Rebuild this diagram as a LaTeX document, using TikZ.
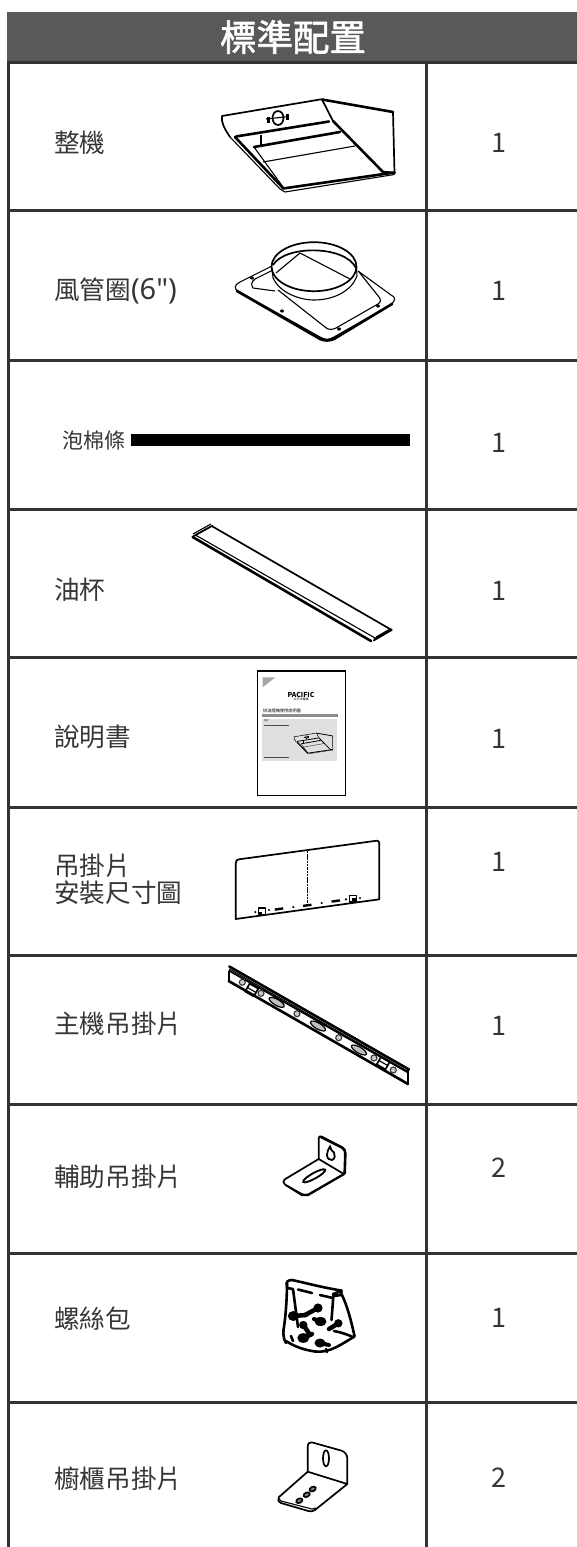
\documentclass[tikz,border=0pt]{standalone}
\usepackage{fontspec}
\setmainfont{Noto Sans CJK TC}
\newfontfamily\headfont[FakeBold=1.6]{Noto Sans CJK TC}
\newfontfamily\latinfont{Noto Sans}
\definecolor{rule}{HTML}{333333}
\definecolor{head}{HTML}{58595B}
\definecolor{ink}{HTML}{231F20}
\tikzset{
  tline/.style={draw=rule,line width=3pt},
  label/.style={anchor=west,inner sep=0pt,text=ink!90,font=\fontsize{25.6}{30}\selectfont,align=left},
  smalllabel/.style={anchor=west,inner sep=0pt,text=ink!90,font=\fontsize{21}{26}\selectfont},
  qty/.style={anchor=center,inner sep=0pt,text=ink!90,font=\fontsize{27}{30}\selectfont},
  hthin/.style={draw=black,line width=1.1pt,line join=round},
  hmid/.style={draw=black,line width=1.7pt,line join=round},
  hbig/.style={draw=black,line width=2.6pt,line join=round,line cap=round},
}
\newcommand{\hoodlines}{%
  \draw[hmid] (230,137) .. controls (224,128) and (221,122) .. (222,116) -- (320,99.5) -- (322,99.5);
  \draw[hbig] (322,99.5) -- (393,112);
  \draw[hmid] (393,112) -- (394.5,173);
  \draw[hmid] (322,99.5) -- (333,121);
  \draw[hbig] (333,121) -- (383,172) -- (394.5,173);
  \draw[hbig] (329,121.5) -- (236,136.5);
  \draw[hthin] (230,137) -- (280,189);
  \draw[hbig] (235,137) -- (283,188);
  \draw[hbig] (254,147) -- (340,132);
  \draw[hthin] (263,162) -- (355,146);
  \draw[hthin] (254,147) -- (283,187);
  \draw[hthin] (261,135) -- (261,146);
  \draw[hbig] (283,188.5) -- (394.5,172.5);
  \draw[hthin] (280,189) -- (285,192) -- (394.5,174.5);
  \draw[hmid] (278,118) ellipse [x radius=5.5,y radius=7];
  \draw[hthin] (266,119) -- (289,116.5);
  \fill (266.5,116.5) rectangle (269.5,122.5);
  \fill (286,114) rectangle (289,120);
}
\begin{document}
\begin{tikzpicture}[x=1pt,y=-1pt]
\useasboundingbox (0,0) rectangle (577,1547);
% table
\fill[head] (7,12) rectangle (577,62);
\node[inner sep=0pt,text=white,font=\fontsize{36.5}{40}\headfont] (title) at (293,37) {標準配置};
\draw[tline] (8,62) -- (8,1547);
\draw[tline] (426,62) -- (426,1547);
\foreach \yy in {62,210,360,509,657,807,955,1104,1253,1402}
  \draw[tline] (7,\yy) -- (577,\yy);
% labels
\node[label] (l1) at (54,143) {整機};
\node[label] (l2) at (54,291) {風管圈{\latinfont\fontsize{29}{30}\selectfont (6")}};
\node[smalllabel] (l3) at (62,441) {泡棉條};
\node[label] (l4) at (54,590) {油杯};
\node[label] (l5) at (54,737) {說明書};
\node[label] (l6a) at (54,866) {吊掛片};
\node[label] (l6b) at (54,893) {安裝尺寸圖};
\node[label] (l7) at (54,1024) {主機吊掛片};
\node[label] (l8) at (54,1177) {輔助吊掛片};
\node[label] (l9) at (54,1319) {螺絲包};
\node[label] (l10) at (54,1479) {櫥櫃吊掛片};
% quantities
\foreach \nm/\yy/\qq in {q1/143/1,q2/291/1,q3/443/1,q4/591/1,q5/739/1,q6/862/1,q7/1026/1,q8/1168/2,q9/1318/1,q10/1478/2}
  \node[qty] (\nm) at (499,\yy) {\qq};
% hood
\hoodlines
% duct ring
\draw[hthin] (272,266) -- (240,282) .. controls (234,285) and (234,289) .. (238,291) -- (320,337) .. controls (325,340) and (329,340) .. (334,337) -- (390,305) .. controls (396,301) and (396,297) .. (391,295) -- (358,271);
\draw[hbig] (237,291) -- (320,339) .. controls (325,341) and (329,341) .. (334,339) -- (392,304);
\draw[hthin] (273,270) -- (255,279) .. controls (251,282) and (251,285) .. (253,288) -- (275,291);
\draw[hthin] (278,290) -- (325,327) .. controls (328,330) and (332,330) .. (336,328) -- (378,304) .. controls (381,302) and (381,300) .. (379,297) -- (359,272);
\draw[hthin] (305,255) -- (348,259);
\fill[white] (314,267) ellipse [x radius=41,y radius=24];
\draw[hthin] (276,273) -- (300,253) -- (350,279);
\draw[hmid] (314,266.7) ellipse [x radius=42.5,y radius=24.5];
\draw[hmid] (273,265) .. controls (285,245) and (345,245) .. (356,268);
\draw[hthin] (272,268) -- (273,278) .. controls (280,293) and (300,300) .. (314,300) .. controls (335,300) and (352,290) .. (357,276) -- (356.5,267);
\foreach \hx/\hy in {252/278,282/311,339/329,378/306}
  \fill (\hx,\hy) ellipse [x radius=2,y radius=1.6];
% foam strip
\fill[black] (131,434) rectangle (410,446);
% oil cup
\draw[hmid] (192.7,536.7) -- (211.7,526) -- (391.7,630) -- (373.3,640.7);
\draw[hbig] (192.7,537) -- (371,641);
\draw[hthin] (195.5,535) -- (375,638);
\draw[hthin] (195.5,535) -- (213,525.5);
\draw[hthin] (374,639) -- (391,629);
\draw[hthin] (376,637) -- (391,628.5);
\draw[hthin] (193,534) -- (211,524);
% manual
\draw[draw=black,line width=1.4pt] (257.3,671) rectangle (345.3,795.3);
\fill[black!35] (262.7,677.3) -- (275.3,677.3) -- (262.7,687.3) -- cycle;
\node[inner sep=0pt,font=\fontsize{6.8}{7}\bfseries\selectfont] (mbrand) at (301,694.6) {PACIFIC};
\node[inner sep=0pt,font=\fontsize{3}{4}\selectfont] (msub) at (301,699.4) {太平洋電機};
\node[inner sep=0pt,anchor=west,font=\fontsize{4.2}{5}\selectfont] (mtitle) at (263,710.6) {排油煙機使用說明書};
\fill[black!45] (262,714) rectangle (338,717);
\fill[black!12] (262,719) rectangle (337,760.7);
\begin{scope}[shift={(244.05,710.7)},scale=.225,
  hthin/.style={draw=black,line width=.3pt},hmid/.style={draw=black,line width=.5pt},hbig/.style={draw=black,line width=.8pt}]
\hoodlines
\end{scope}
\node[inner sep=0pt,anchor=west,font=\fontsize{2.2}{3}\selectfont] (mmodel) at (264,720.8) {型號};
\draw[black!70,line width=.5pt] (263.5,725) -- (288.5,725);
\draw[black!70,line width=.5pt] (263.5,757) -- (288.5,757);
% template
\draw[hmid] (235.7,919) -- (235.7,863.3) .. controls (235.7,860.5) and (237,859.5) .. (239,859.3) -- (376.7,840.7) .. controls (378.5,840.7) and (379.3,841.5) .. (379.3,843.3) -- (379.3,899.3) -- cycle;
\draw[draw=black,line width=1.3pt,dash pattern=on 2.5pt off .8pt] (307.7,850.7) -- (307.7,903);
\draw[hthin] (258.5,908) rectangle (265.5,914.5);
\draw[hthin] (349.2,895.5) rectangle (356.2,902);
\fill (262,915) rectangle (258.8,911.8);
\fill (356,901) rectangle (352,898);
\foreach \dx/\dy/\dw in {279/909/4.2,307.3/905.3/4.2,335.7/901/4.2}
  \fill[rotate around={8:(\dx,\dy)}] (\dx-\dw,\dy-1.2) rectangle (\dx+\dw,\dy+1.2);
\foreach \dx/\dy in {255.3/912,269/910,293.3/907,321.7/903,346/899.3,360/898}
  \fill (\dx,\dy) circle (1.2);
% main bar
\draw[hbig] (229.3,966.5) -- (409,1069.5);
\draw[hthin] (229.3,969) -- (408,1071.5);
\draw[hmid] (228.7,970.5) -- (408,1072.5);
\draw[hmid] (228.7,970.5) -- (228.7,981);
\draw[hbig] (228.7,981) -- (408,1084);
\draw[hthin] (408,1069.5) -- (408,1084);
\foreach \cx/\cy in {242.3/982.3,261/993.3,297/1013.7,338.7/1037.7,374/1058,393.3/1070}
{ \draw[draw=black!80,line width=1.1pt,fill=black!20] (\cx,\cy) circle (3);}
\foreach \cx/\cy in {276.7/1002.3,318/1026,359/1050}
{ \draw[draw=black,line width=1.2pt,fill=black!25,rotate around={-30:(\cx,\cy)}] (\cx,\cy) ellipse [x radius=8.5,y radius=3];}
\foreach \cx/\cy in {251.7/990,383.3/1063}
{ \draw[hmid,rotate around={-30:(\cx,\cy)}] (\cx-5,\cy-4.5) rectangle (\cx+5,\cy+4.5);
  \draw[hthin,rotate around={-30:(\cx,\cy)}] (\cx-5,\cy) -- (\cx+5,\cy);}
% aux bracket
\draw[hmid] (318.7,1159) -- (318.7,1138.3) .. controls (318.7,1136.3) and (320,1135.8) .. (321.7,1136.6) -- (341.7,1147.3) .. controls (344.5,1149) and (345.5,1151) .. (345.3,1153.5) -- (344.7,1173.3) -- (308.3,1194.3) .. controls (306,1195) and (303.5,1194.8) .. (301.7,1194) -- (285,1184.5) .. controls (283,1183) and (283,1181) .. (284.5,1179.5) -- (318.7,1159) -- (342.7,1173.3) -- (344.7,1173.3);
\draw[hthin] (285,1185) -- (301.7,1195.5) -- (308.3,1195.5) -- (344.7,1174.3);
\draw[hbig] (321,1137) -- (341.7,1147.3) .. controls (344.5,1149) and (345.5,1151) .. (345.3,1153.5) -- (344.7,1173.3);
\draw[draw=black,line width=1.8pt] (330,1146.5) .. controls (328,1150) and (327,1152) .. (327,1155) .. controls (327,1158.5) and (330,1160.5) .. (332,1160) .. controls (335,1159) and (335.5,1155) .. (334,1152.5) .. controls (332,1151.5) and (331,1149.5) .. (330,1146.5) -- cycle;
\draw[draw=black,line width=1.9pt,rotate around={29:(314.2,1175.8)}] (314.2,1175.8) ellipse [x radius=12.5,y radius=2.8];
% screw bag
\draw[hbig] (287,1286) .. controls (285.5,1282) and (288,1280) .. (292,1280) .. controls (310,1284) and (325,1288) .. (341.5,1290.5);
\draw[hbig] (287,1283.5) .. controls (287,1295) and (286,1315) .. (283.5,1330) .. controls (283,1335) and (284,1340) .. (286,1343);
\draw[hbig] (287,1288) -- (293,1289) -- (298,1327);
\draw[hbig] (298,1289.5) -- (312,1293);
\draw[hbig] (320,1295) -- (333,1298);
\draw[hbig] (333,1294) -- (341.5,1291) -- (341,1295) -- (333.5,1296);
\draw[hbig] (333.5,1294) -- (331.5,1320);
\draw[hbig] (341.5,1294) .. controls (347,1305) and (351,1320) .. (354.5,1336);
\draw[hbig] (286,1341) .. controls (295,1347) and (305,1350) .. (315,1351.5) .. controls (330,1353) and (340,1345) .. (354.5,1336.5);
\draw[hbig] (334,1331) .. controls (340,1332) and (346,1334) .. (353,1337);
\draw[hbig] (291,1336) -- (293,1341);
\draw[hbig] (326,1349) -- (327,1352);
\fill (318,1308) circle (4.6);
\draw[black,line width=4.5pt,line cap=round] (318,1308) -- (305,1315);
\fill (293.3,1316) ellipse [x radius=5.5,y radius=5];
\draw[black,line width=4.5pt,line cap=round] (293,1316) -- (306,1315);
\fill (320.5,1321.5) ellipse [x radius=6,y radius=4.5];
\draw[black,line width=4pt,line cap=round] (320,1321) -- (314,1319);
\fill (338.3,1323.3) circle (4.2);
\draw[black,line width=4.5pt,line cap=round] (338,1323.5) -- (329,1329);
\fill (303.3,1325) circle (4.2);
\draw[black,line width=4.5pt,line cap=round] (303.5,1325) -- (310,1335);
\fill (303.3,1338) ellipse [x radius=6,y radius=4.8];
\draw[black,line width=4.5pt,line cap=round] (303,1338) -- (312,1334);
\fill (320,1343) ellipse [x radius=5.5,y radius=4.5];
\draw[black,line width=4pt,line cap=round] (320,1343) -- (329,1345);
% cabinet bracket
\draw[hmid] (307.7,1471.7) -- (307.7,1446.7) .. controls (307.7,1443.5) and (309.5,1441.8) .. (311.7,1442.3) -- (341.7,1450.7) .. controls (345,1452) and (347.3,1455) .. (347.3,1458.3) -- (347.3,1484) -- (315,1510) .. controls (313,1511.5) and (310.5,1511.5) .. (308.3,1511) -- (281,1503) .. controls (278,1501.5) and (277.5,1499) .. (279,1497) -- (307.7,1471.7) -- (347.3,1484);
\draw[hthin] (279,1499) -- (281,1501) -- (312,1509) -- (316,1508);
\draw[hmid] (326,1458.3) ellipse [x radius=3,y radius=8];
\foreach \cx/\cy in {312.7/1489,306.7/1494.7,299.3/1500.7}
{ \draw[draw=black,line width=1.6pt,fill=black!50,rotate around={25:(\cx,\cy)}] (\cx,\cy) ellipse [x radius=3.3,y radius=2.2];}
\end{tikzpicture}
\end{document}
